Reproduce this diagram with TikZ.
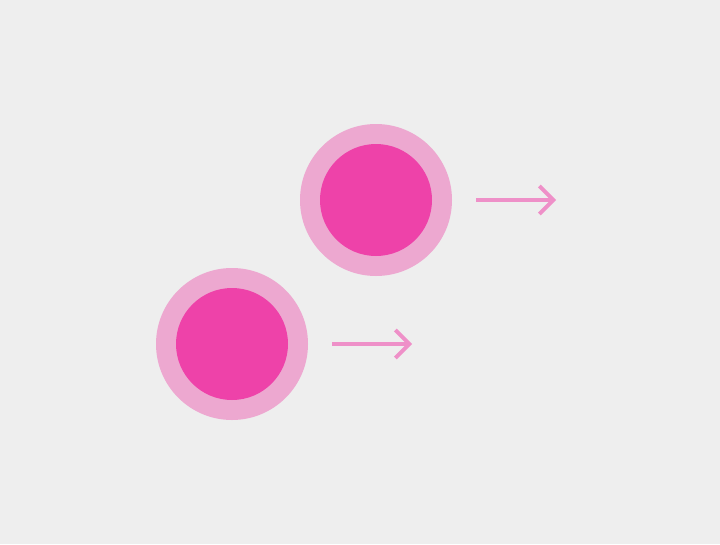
\documentclass[tikz,border=0pt]{standalone}
\usepackage{tikz}
\usetikzlibrary{arrows.meta, positioning}
\definecolor{bggray}{RGB}{238, 238, 238}
\definecolor{ringpink}{RGB}{237, 168, 208}
\definecolor{corepink}{RGB}{238, 66, 169}
\definecolor{arrowpink}{RGB}{238, 144, 200}

\begin{document}
\begin{tikzpicture}[
			x=1pt, y=-1pt,
			ring/.style={circle, fill=ringpink, minimum size=152pt, inner sep=0pt},
			core/.style={circle, fill=corepink, minimum size=112pt, inner sep=0pt},
			arrow/.style={-{Straight Barb[length=14pt, width=28pt]}, line width=4pt, draw=arrowpink}
		]
		% Background
		\fill[bggray] (0,0) rectangle (720,544);
		\useasboundingbox (0,0) rectangle (720,544);
		
		% Upper cell
		\node[ring] (ringA) at (376,200) {};
		\node[core] (coreA) at (ringA.center) {};
		\coordinate[right=104pt of ringA.east] (endA);
		
		% Lower cell
		\node[ring] (ringB) at (232,344) {};
		\node[core] (coreB) at (ringB.center) {};
		\coordinate[right=104pt of ringB.east] (endB);
		
		% Arrows
		\draw[arrow] ([xshift=24pt]ringA.east) -- (endA);
		\draw[arrow] ([xshift=24pt]ringB.east) -- (endB);
\end{tikzpicture}
\end{document}
